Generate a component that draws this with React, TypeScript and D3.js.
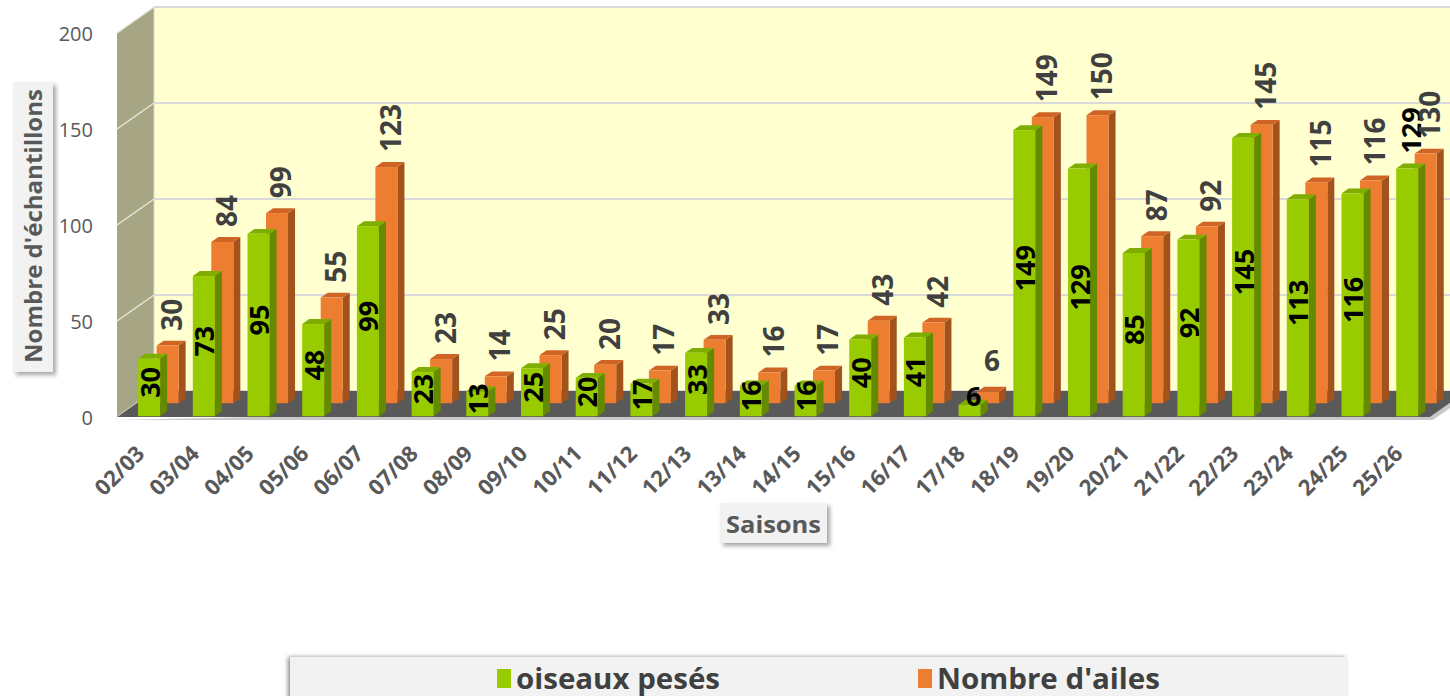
import * as d3 from "d3"

const categories = [
  "02/03", "03/04", "04/05", "05/06", "06/07", "07/08", "08/09", "09/10",
  "10/11", "11/12", "12/13", "13/14", "14/15", "15/16", "16/17", "17/18",
  "18/19", "19/20", "20/21", "21/22", "22/23", "23/24", "24/25", "25/26",
]
const oiseauxPeses = [30, 73, 95, 48, 99, 23, 13, 25, 20, 17, 33, 16, 16, 40, 41, 6, 149, 129, 85, 92, 145, 113, 116, 129]
const nombreAiles = [30, 84, 99, 55, 123, 23, 14, 25, 20, 17, 33, 16, 17, 43, 42, 6, 149, 150, 87, 92, 145, 115, 116, 130]
const yTicks = [0, 50, 100, 150, 200]
const seriesNames = ["oiseaux pesés", "Nombre d'ailes"]

const W = 1450
const H = 696
const FONT = "'Open Sans', 'DejaVu Sans', sans-serif"

// projection: front plane + depth vector
const DX = 37
const DY = -26
const x0 = 117
const plotW = 54.7 * categories.length

const x = d3.scaleBand<string>().domain(categories).range([x0, x0 + plotW]).padding(0)
const y = d3.scaleLinear().domain([0, 200]).range([417, 33])

const series = [
  { name: seriesNames[0], values: oiseauxPeses, depth: 0.03, front: "#99cc00", side: "#648a00", top: "#7fae00" },
  { name: seriesNames[1], values: nombreAiles, depth: 0.53, front: "#ed7d31", side: "#a3521c", top: "#cf6424" },
]

const barW = 22
const barOff = 20
const bd = 0.19 // bar depth fraction

function Bar({ i, s }: { i: number; s: (typeof series)[number] }) {
  const ox = s.depth * DX
  const oy = s.depth * DY
  const xl = (x(categories[i]) as number) + barOff + ox
  const xr = xl + barW
  const yb = y(0) + oy
  const yt = y(s.values[i]) + oy
  const ddx = bd * DX
  const ddy = bd * DY
  return (
    <g>
      <polygon points={`${xr},${yt} ${xr + ddx},${yt + ddy} ${xr + ddx},${yb + ddy} ${xr},${yb}`} fill={s.side} />
      <polygon points={`${xl},${yt} ${xl + ddx},${yt + ddy} ${xr + ddx},${yt + ddy} ${xr},${yt}`} fill={s.top} />
      <rect x={xl} y={yt} width={barW} height={yb - yt} fill={s.front} />
    </g>
  )
}

function Label({ i, s, inside, color, size }: { i: number; s: (typeof series)[number]; inside: boolean; color: string; size: number }) {
  const ox = s.depth * DX
  const oy = s.depth * DY
  const v = s.values[i]
  const xl = (x(categories[i]) as number) + barOff + ox
  const cx = xl + barW / 2
  const yb = y(0) + oy
  const yt = y(v) + oy
  const txt = String(v)
  if (txt.length === 1) {
    // short labels stay upright
    const by = inside ? yt + 1 : yt + bd * DY - 16
    return (
      <text x={cx + 4} y={by} textAnchor="middle" fontFamily={FONT} fontWeight={700} fontSize={size} fill={color}>
        {txt}
      </text>
    )
  }
  if (inside) {
    const cy = (yt + yb) / 2 - 5
    return (
      <text x={cx} y={cy} transform={`rotate(-90,${cx},${cy})`} textAnchor="middle" dominantBaseline="central"
        fontFamily={FONT} fontWeight={700} fontSize={size} fill={color}>
        {txt}
      </text>
    )
  }
  const lx = cx + 3.5
  const ly = yt + bd * DY - 10
  return (
    <text x={lx} y={ly} transform={`rotate(-90,${lx},${ly})`} textAnchor="start" dominantBaseline="central"
      fontFamily={FONT} fontWeight={700} fontSize={size} fill={color}>
      {txt}
    </text>
  )
}

export default function App() {
  const last = categories.length - 1
  const xEnd = x0 + plotW
  return (
    <svg width={W} height={H} style={{ position: "absolute", left: 0, top: 0, background: "#fff" }}>
      <defs>
        <filter id="shadow" x="-20%" y="-20%" width="140%" height="140%">
          <feDropShadow dx={3} dy={3} stdDeviation={2} floodColor="#000" floodOpacity={0.35} />
        </filter>
        <filter id="shadowL" x="-5%" y="-30%" width="110%" height="160%">
          <feDropShadow dx={-2} dy={0} stdDeviation={2} floodColor="#000" floodOpacity={0.45} />
        </filter>
      </defs>

      {/* back wall */}
      <rect x={x0 + DX} y={y(200) + DY} width={W} height={y(0) - y(200)} fill="#ffffd0" />
      {/* side wall */}
      <polygon points={`${x0},${y(200)} ${x0 + DX},${y(200) + DY} ${x0 + DX},${y(0) + DY} ${x0},${y(0)}`} fill="#a6a684" />

      {/* gridlines */}
      {yTicks.map((t) => (
        <g key={t}>
          <line x1={x0 + DX} x2={W} y1={y(t) + DY} y2={y(t) + DY} stroke="#d9d9d9" strokeWidth={2} />
          <line x1={x0} x2={x0 + DX} y1={y(t)} y2={y(t) + DY} stroke="#e6e6dc" strokeWidth={1.5} />
        </g>
      ))}
      <line x1={x0 + DX} x2={x0 + DX} y1={y(200) + DY} y2={y(0) + DY} stroke="#d9d9c8" strokeWidth={1} />

      {/* floor */}
      <polygon points={`${x0},${y(0) + 3} ${xEnd + 3},${y(0) + 3} ${xEnd + DX + 3},${y(0) + DY + 3} ${xEnd + DX},${y(0) + DY}`} fill="#c8c8c8" />
      <polygon points={`${x0},${y(0)} ${x0 + DX},${y(0) + DY} ${xEnd + DX},${y(0) + DY} ${xEnd},${y(0)}`} fill="#595959" />

      {/* bars: back row first */}
      {categories.map((c, i) => <Bar key={"o" + c} i={i} s={series[1]} />)}
      {categories.map((c, i) => <Bar key={"g" + c} i={i} s={series[0]} />)}

      {/* data labels */}
      {categories.map((c, i) => (
        <Label key={"lg" + c} i={i} s={series[0]} inside={i !== last} color="#000" size={27} />
      ))}
      {categories.map((c, i) => (
        <Label key={"lo" + c} i={i} s={series[1]} inside={false} color="#404040" size={28} />
      ))}

      {/* y ticks */}
      {yTicks.map((t) => (
        <text key={t} x={93} y={y(t)} textAnchor="end" dominantBaseline="central" fontFamily={FONT} fontSize={20} fill="#595959">
          {t}
        </text>
      ))}

      {/* x ticks */}
      {categories.map((c) => {
        const lx = (x(c) as number) + 29
        const ly = 455
        return (
          <text key={c} x={lx} y={ly} transform={`rotate(-45,${lx},${ly})`} textAnchor="end"
            fontFamily={FONT} fontWeight={700} fontSize={22} fill="#595959">
            {c}
          </text>
        )
      })}

      {/* y title */}
      <rect x={13} y={82} width={40} height={290} fill="#f2f2f2" filter="url(#shadow)" />
      <text x={33} y={226} transform="rotate(-90,33,226)" textAnchor="middle" dominantBaseline="central"
        fontFamily={FONT} fontWeight={700} fontSize={23} fill="#595959" textLength={274} lengthAdjust="spacingAndGlyphs">
        Nombre d'échantillons
      </text>

      {/* x title */}
      <rect x={720} y={503} width={107} height={40} fill="#f2f2f2" filter="url(#shadow)" />
      <text x={773.5} y={523} textAnchor="middle" dominantBaseline="central" fontFamily={FONT} fontWeight={700} fontSize={24}
        fill="#595959" textLength={95} lengthAdjust="spacingAndGlyphs">
        Saisons
      </text>

      {/* legend */}
      <rect x={290} y={657} width={1057} height={60} fill="#f2f2f2" filter="url(#shadowL)" />
      {series.map((s, k) => {
        const lx = k === 0 ? 497 : 918
        return (
          <g key={s.name}>
            <rect x={lx} y={669} width={14} height={19} fill={s.front} />
            <text x={lx + 19} y={689} fontFamily={FONT} fontWeight={700} fontSize={28} fill="#404040"
              textLength={k === 0 ? 204 : 223} lengthAdjust="spacingAndGlyphs">
              {s.name}
            </text>
          </g>
        )
      })}
    </svg>
  )
}
